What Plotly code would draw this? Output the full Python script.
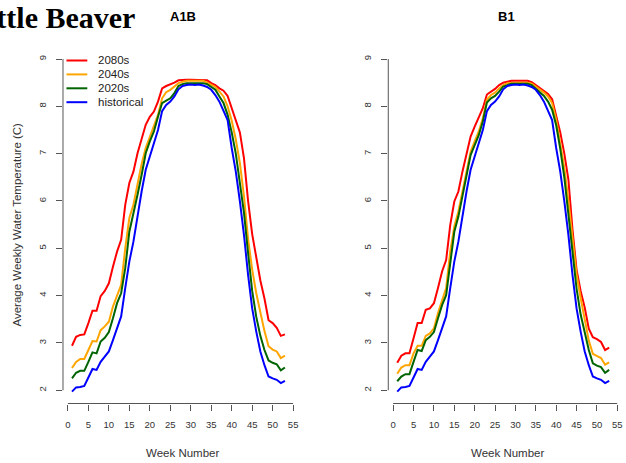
import plotly.graph_objects as go

weeks = list(range(1, 54))

a1b_2080s = [2.94, 3.13, 3.17, 3.18, 3.42, 3.68, 3.68, 3.99, 4.10, 4.26,
             4.61, 4.93, 5.18, 5.92, 6.38, 6.62, 7.01, 7.29, 7.61, 7.78,
             7.89, 8.10, 8.38, 8.43, 8.46, 8.50, 8.55, 8.56, 8.56, 8.56,
             8.56, 8.56, 8.56, 8.55, 8.49, 8.45, 8.38, 8.33, 8.22, 7.95,
             7.70, 7.45, 6.90, 6.00, 5.30, 4.80, 4.32, 3.94, 3.48, 3.42,
             3.32, 3.15, 3.18]
a1b_2040s = [2.47, 2.60, 2.66, 2.66, 2.85, 3.04, 3.03, 3.27, 3.35, 3.45,
             3.77, 4.01, 4.23, 5.00, 5.64, 5.92, 6.38, 6.78, 7.12, 7.36,
             7.57, 7.82, 8.17, 8.30, 8.35, 8.42, 8.49, 8.52, 8.54, 8.54,
             8.54, 8.54, 8.54, 8.50, 8.45, 8.41, 8.31, 8.21, 8.00, 7.70,
             7.30, 6.80, 6.10, 5.20, 4.55, 4.05, 3.65, 3.25, 2.93, 2.86,
             2.82, 2.68, 2.73]
a1b_2020s = [2.25, 2.37, 2.41, 2.41, 2.60, 2.80, 2.78, 3.03, 3.11, 3.23,
             3.52, 3.84, 4.05, 4.58, 5.35, 5.71, 6.13, 6.55, 7.01, 7.26,
             7.47, 7.78, 8.07, 8.12, 8.17, 8.28, 8.43, 8.47, 8.49, 8.49,
             8.49, 8.49, 8.49, 8.47, 8.41, 8.35, 8.21, 8.07, 7.82, 7.45,
             7.00, 6.40, 5.75, 4.90, 4.10, 3.55, 3.15, 2.85, 2.63, 2.58,
             2.55, 2.42, 2.48]
historical = [1.97, 2.06, 2.07, 2.09, 2.27, 2.45, 2.43, 2.60, 2.71, 2.82,
              3.06, 3.30, 3.56, 4.16, 4.72, 5.14, 5.71, 6.20, 6.66, 6.94,
              7.20, 7.50, 7.90, 8.03, 8.10, 8.21, 8.36, 8.43, 8.45, 8.46,
              8.45, 8.46, 8.44, 8.41, 8.35, 8.24, 8.10, 7.92, 7.71, 7.12,
              6.62, 5.99, 5.28, 4.44, 3.73, 3.24, 2.82, 2.53, 2.29, 2.25,
              2.22, 2.15, 2.20]

b1_2080s = [2.58, 2.73, 2.78, 2.78, 3.10, 3.42, 3.42, 3.70, 3.73, 3.84,
            4.16, 4.51, 4.75, 5.49, 5.99, 6.20, 6.62, 7.01, 7.36, 7.57,
            7.75, 7.96, 8.25, 8.31, 8.37, 8.45, 8.50, 8.52, 8.54, 8.54,
            8.54, 8.54, 8.54, 8.51, 8.45, 8.38, 8.33, 8.26, 8.15, 7.82,
            7.45, 7.00, 6.45, 5.40, 4.55, 4.10, 3.75, 3.30, 3.12, 3.08,
            3.02, 2.85, 2.90]
b1_2040s = [2.35, 2.48, 2.53, 2.53, 2.78, 2.94, 2.94, 3.15, 3.20, 3.31,
            3.63, 3.91, 4.16, 4.93, 5.46, 5.78, 6.20, 6.66, 7.04, 7.26,
            7.47, 7.75, 8.14, 8.24, 8.29, 8.38, 8.45, 8.49, 8.50, 8.50,
            8.50, 8.50, 8.50, 8.48, 8.42, 8.36, 8.29, 8.21, 8.07, 7.72,
            7.25, 6.70, 6.00, 5.20, 4.45, 3.95, 3.50, 3.05, 2.77, 2.72,
            2.68, 2.54, 2.59]
b1_2020s = [2.19, 2.29, 2.34, 2.34, 2.60, 2.85, 2.83, 3.06, 3.13, 3.23,
            3.52, 3.80, 4.01, 4.72, 5.35, 5.67, 6.09, 6.55, 6.97, 7.18,
            7.39, 7.68, 8.08, 8.17, 8.22, 8.31, 8.42, 8.45, 8.48, 8.48,
            8.48, 8.48, 8.48, 8.45, 8.38, 8.31, 8.22, 8.10, 7.93, 7.60,
            7.10, 6.50, 5.75, 4.90, 4.15, 3.60, 3.20, 2.85, 2.57, 2.52,
            2.49, 2.37, 2.43]

series_names = ["2080s", "2040s", "2020s", "historical"]
series_colors = ["#FF0000", "#FFA500", "#006400", "#0000FF"]
a1b_series = [a1b_2080s, a1b_2040s, a1b_2020s, historical]
b1_series = [b1_2080s, b1_2040s, b1_2020s, historical]

x_ticks = list(range(0, 56, 5))
y_ticks = list(range(2, 10))

W, H = 626, 463
SANS = "Liberation Sans, Arial, sans-serif"

fig = go.Figure()
for name, col, ys in zip(series_names, series_colors, a1b_series):
    fig.add_trace(go.Scatter(x=weeks, y=ys, mode="lines", name=name,
                             line=dict(color=col, width=2),
                             xaxis="x", yaxis="y", showlegend=False))
for name, col, ys in zip(series_names, series_colors, b1_series):
    fig.add_trace(go.Scatter(x=weeks, y=ys, mode="lines", name=name,
                             line=dict(color=col, width=2),
                             xaxis="x2", yaxis="y2", showlegend=False))

ydom = [1 - 403.5 / H, 1 - 45.8 / H]
xdom1 = [63.5 / W, 295.9 / W]
xdom2 = [391.4 / W, 622.7 / W]

axis_common = dict(showgrid=False, zeroline=False, showline=False,
                   ticks="outside", ticklen=6, tickwidth=1, tickcolor="#555",
                   tickfont=dict(family=SANS, size=9.5, color="#333"))

fig.update_layout(
    width=W, height=H,
    margin=dict(l=0, r=0, t=0, b=0),
    paper_bgcolor="white", plot_bgcolor="white",
    showlegend=False,
    xaxis=dict(domain=xdom1, range=[-1.2, 55.1], anchor="y",
               tickvals=x_ticks, ticklabelstandoff=6, **axis_common),
    yaxis=dict(domain=ydom, range=[1.72, 9.28], anchor="x",
               tickvals=y_ticks, tickangle=-90, ticklabelstandoff=6, **axis_common),
    xaxis2=dict(domain=xdom2, range=[-1.2, 55.1], anchor="y2",
                tickvals=x_ticks, ticklabelstandoff=6, **axis_common),
    yaxis2=dict(domain=ydom, range=[1.72, 9.28], anchor="x2",
                tickvals=y_ticks, tickangle=-90, ticklabelstandoff=6, **axis_common),
)

# R-style axis lines spanning only the tick range
for xr, yr in (("x", "y"), ("x2", "y2")):
    fig.add_shape(type="line", xref=xr, yref=yr + " domain",
                  x0=x_ticks[0], x1=x_ticks[-1], y0=0, y1=0,
                  line=dict(color="#555", width=1))
    fig.add_shape(type="line", xref=xr + " domain", yref=yr,
                  x0=0, x1=0, y0=y_ticks[0], y1=y_ticks[-1],
                  line=dict(color="#555", width=1))

annotations = [
    dict(text="<b>Little Beaver</b>", x=138.5 / W, y=1 - 17.5 / H, xanchor="right",
         yanchor="middle", font=dict(family="Liberation Serif, Times New Roman, serif",
                                     size=30, color="black")),
    dict(text="<b>A1B</b>", x=184 / W, y=1 - 17 / H, xanchor="center", yanchor="middle",
         font=dict(family=SANS, size=13, color="black")),
    dict(text="<b>B1</b>", x=510.7 / W, y=1 - 17 / H, xanchor="center", yanchor="middle",
         font=dict(family=SANS, size=13, color="black")),
    dict(text="Week Number", x=184.3 / W, y=1 - 452.7 / H, xanchor="center",
         yanchor="middle", font=dict(family=SANS, size=11.5, color="#333")),
    dict(text="Week Number", x=511.3 / W, y=1 - 452.7 / H, xanchor="center",
         yanchor="middle", font=dict(family=SANS, size=11.5, color="#333")),
    dict(text="Average Weekly Water Temperature (C)", x=17 / W, y=(ydom[0] + ydom[1]) / 2,
         xanchor="center", yanchor="middle", textangle=-90,
         font=dict(family=SANS, size=11.5, color="#333")),
]

# R-style legend (compact rows) in the top-left of the A1B panel
legend_x0, legend_x1, legend_text_x = 67, 88, 97
legend_y0, legend_dy = 60.5, 13.9
for i, (name, col) in enumerate(zip(series_names, series_colors)):
    ypx = legend_y0 + i * legend_dy
    fig.add_shape(type="line", xref="paper", yref="paper",
                  x0=legend_x0 / W, x1=legend_x1 / W, y0=1 - ypx / H, y1=1 - ypx / H,
                  line=dict(color=col, width=2))
    annotations.append(dict(text=name, x=legend_text_x / W, y=1 - ypx / H,
                            xanchor="left", yanchor="middle",
                            font=dict(family=SANS, size=11.5, color="#222")))

for a in annotations:
    a.update(xref="paper", yref="paper", showarrow=False)
fig.update_layout(annotations=annotations)

fig.write_html("out.html")
